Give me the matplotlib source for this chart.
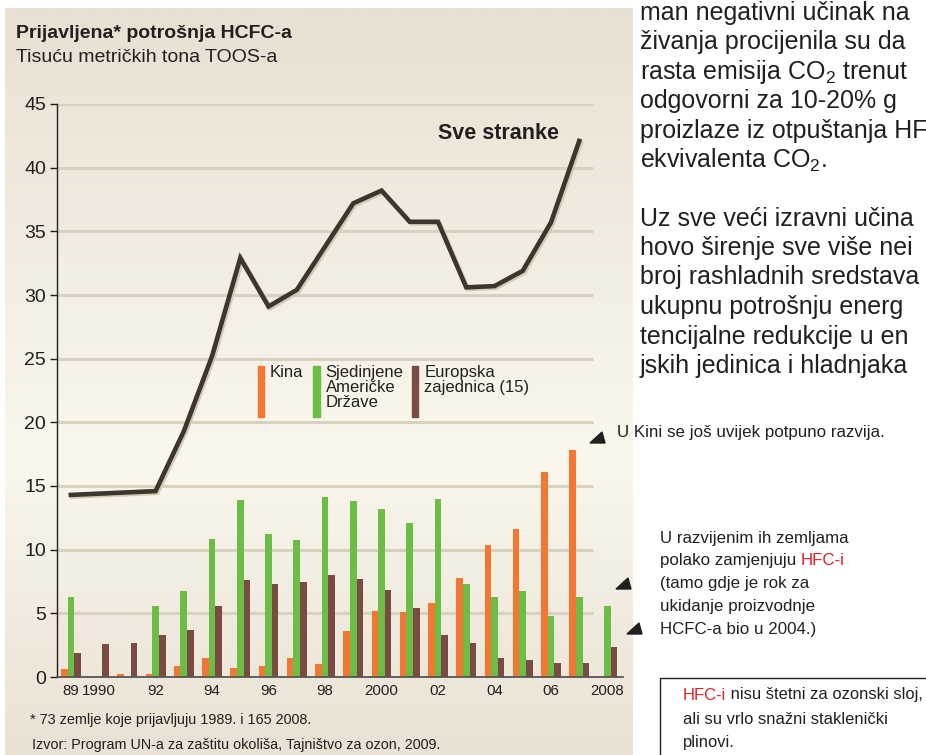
import numpy as np
import matplotlib
matplotlib.use('Agg')
import matplotlib.pyplot as plt
import matplotlib.patheffects as pe
from matplotlib.patches import Rectangle, Polygon

plt.rcParams['font.family'] = ['Liberation Sans', 'DejaVu Sans']
plt.rcParams['mathtext.fontset'] = 'custom'
plt.rcParams['mathtext.rm'] = 'Liberation Sans'
plt.rcParams['mathtext.it'] = 'Liberation Sans'

# podaci (tisuću metričkih tona TOOS-a)
years = list(range(1989, 2009))
sve_stranke = [14.3, 14.4, 14.5, 14.6, 19.3, 25.2, 32.9, 29.1, 30.4, 33.8,
               37.2, 38.2, 35.75, 35.75, 30.6, 30.7, 31.9, 35.7, 42.1]
kina = [0.6, 0.0, 0.2, 0.2, 0.85, 1.47, 0.7, 0.85, 1.47, 1.0,
        3.6, 5.15, 5.1, 5.8, 7.75, 10.35, 11.6, 16.1, 17.85, 0.0]
sad = [6.3, 0.0, 0.0, 5.55, 6.75, 10.8, 13.9, 11.2, 10.75, 14.1,
       13.8, 13.2, 12.1, 14.0, 7.3, 6.3, 6.75, 4.77, 6.3, 5.6]
eu = [1.85, 2.6, 2.65, 3.3, 3.67, 5.55, 7.6, 7.3, 7.5, 8.0,
      7.7, 6.8, 5.4, 3.3, 2.7, 1.47, 1.3, 1.07, 1.07, 2.33]
tick_years = [1989, 1990, 1992, 1994, 1996, 1998, 2000, 2002, 2004, 2006, 2008]
tick_labels = ['89', '1990', '92', '94', '96', '98', '2000', '02', '04', '06', '2008']

c_kina = '#f37632'
c_sad = '#6cbd45'
c_eu = '#7a4b42'
c_line = '#3e352c'
c_grid = '#d9d1bf'
c_text = '#231f20'
c_red = '#e8202a'

W, H = 926, 755
fig = plt.figure(figsize=(W / 100, H / 100), dpi=100)
fig.patch.set_facecolor('white')


def px(x, y):
    # piksel (gore-lijevo) -> koordinate figure
    return x / W, 1 - y / H


# bež pozadina s gradijentom
bg = fig.add_axes([5 / W, 0, (633 - 5) / W, 1 - 8 / H], zorder=0)
t = np.linspace(0, 1, 300)
top = np.array([232, 224, 210]) / 255
mid = np.array([250, 247, 237]) / 255
bot = np.array([233, 225, 211]) / 255
grad = np.where(t[:, None] < 0.6,
                top + (mid - top) * (t[:, None] / 0.6),
                mid + (bot - mid) * ((t[:, None] - 0.6) / 0.4))
bg.imshow(grad[:, None, :], aspect='auto', extent=[0, 1, 0, 1])
bg.axis('off')

# glavni graf
ax = fig.add_axes([57 / W, (H - 677) / H, (623 - 57) / W, (677 - 104) / H], zorder=1)
ax.patch.set_alpha(0)
x = np.array(years, dtype=float)
bw = 0.235
ax.bar(x - bw, kina, width=bw, color=c_kina, zorder=3)
ax.bar(x, sad, width=bw, color=c_sad, zorder=3)
ax.bar(x + bw, eu, width=bw, color=c_eu, zorder=3)

ax.plot(years[:-1], sve_stranke, color=c_line, lw=3.3, zorder=4,
        solid_joinstyle='miter',
        path_effects=[pe.SimpleLineShadow(offset=(1.2, -1.2), shadow_color='#d3cab6', alpha=1),
                      pe.Normal()])
ax.text(2006.3, 42.7, 'Sve stranke', fontsize=15.5, fontweight='bold',
        color=c_text, ha='right', va='center')

ax.set_xlim(1988.51, 2008.55)
ax.set_ylim(0, 45)
ax.hlines(range(5, 50, 5), 1988.51, 2007.5, color=c_grid, lw=2.2, zorder=1)

for s in ['top', 'right']:
    ax.spines[s].set_visible(False)
ax.spines['left'].set_color(c_text)
ax.spines['left'].set_linewidth(1.0)
ax.spines['bottom'].set_color('#555')
ax.spines['bottom'].set_linewidth(1.3)
ax.spines['bottom'].set_zorder(5)

ax.set_yticks(range(0, 50, 5))
ax.tick_params(axis='y', length=5, width=1, color=c_text, labelsize=14,
               labelcolor=c_text, pad=3)
ax.set_xticks(tick_years)
ax.set_xticklabels(tick_labels)
ax.tick_params(axis='x', length=0, labelsize=10.8, labelcolor=c_text, pad=5)

# legenda
for (x0, x1, col, lbl) in [(257.5, 264, c_kina, 'Kina'),
                           (313.3, 319.7, c_sad, 'Sjedinjene\nAmeričke\nDržave'),
                           (411.7, 418.3, c_eu, 'Europska\nzajednica (15)')]:
    fig.patches.append(Rectangle(px(x0, 417), (x1 - x0) / W, 51 / H, color=col,
                                 transform=fig.transFigure, zorder=5))
    fig.text(*px(x1 + 6, 365), lbl, fontsize=12, color=c_text, va='top',
             linespacing=1.0, zorder=5)

# naslovi
fig.text(*px(16, 33), 'Prijavljena* potrošnja HCFC-a', fontsize=14,
         fontweight='bold', color=c_text, va='center')
fig.text(*px(16, 57), 'Tisuću metričkih tona TOOS-a', fontsize=14,
         color=c_text, va='center')
fig.text(*px(30, 720), '* 73 zemlje koje prijavljuju 1989. i 165 2008.',
         fontsize=10.4, color=c_text, va='center')
fig.text(*px(32, 745), 'Izvor: Program UN-a za zaštitu okoliša, Tajništvo za ozon, 2009.',
         fontsize=10.4, color=c_text, va='center')

# desni tekst
para = [(13, 'man negativni učinak na'),
        (42, 'živanja procijenila su da'),
        (72, 'rasta emisija CO$_2$ trenut'),
        (101, 'odgovorni za 10-20% g'),
        (131, 'proizlaze iz otpuštanja HF'),
        (160, 'ekvivalenta CO$_2$.'),
        (219, 'Uz sve veći izravni učina'),
        (248, 'hovo širenje sve više nei'),
        (277, 'broj rashladnih sredstava'),
        (307, 'ukupnu potrošnju energ'),
        (337, 'tencijalne redukcije u en'),
        (366, 'jskih jedinica i hladnjaka')]
for yy, s in para:
    fig.text(*px(640, yy), s, fontsize=18, color=c_text, va='center')

fig.text(*px(617, 432), 'U Kini se još uvijek potpuno razvija.', fontsize=12.2,
         color=c_text, va='center')

lines = ['U razvijenim ih zemljama', 'polako zamjenjuju ', '(tamo gdje je rok za',
         'ukidanje proizvodnje', 'HCFC-a bio u 2004.)']
for i, s in enumerate(lines):
    tt = fig.text(*px(660, 538 + i * 22.8), s, fontsize=12.2, color=c_text, va='center')
    if i == 1:
        ax.annotate('HFC-i', xy=(1, 0.5), xycoords=tt, va='center', ha='left',
                    fontsize=12.2, color=c_red, annotation_clip=False)

# okvir
fig.patches.append(Rectangle(px(660, 770), 300 / W, (770 - 678) / H, fill=False,
                             ec=c_text, lw=1, transform=fig.transFigure, zorder=5))
t1 = fig.text(*px(683, 695), 'HFC-i', fontsize=11.9, color=c_red, va='center')
ax.annotate(' nisu štetni za ozonski sloj,', xy=(1, 0.5), xycoords=t1, va='center',
            ha='left', fontsize=11.9, color=c_text, annotation_clip=False)
fig.text(*px(683, 719), 'ali su vrlo snažni staklenički', fontsize=11.9, color=c_text, va='center')
fig.text(*px(683, 743), 'plinovi.', fontsize=11.9, color=c_text, va='center')

# strelice
for (x0, y0) in [(590, 432), (616, 578), (627, 623)]:
    pts = [px(x0, y0 + 11), px(x0 + 15, y0 + 11), px(x0 + 12, y0)]
    fig.patches.append(Polygon(pts, closed=True, color=c_text,
                               transform=fig.transFigure, zorder=6))

fig.savefig('out.png', dpi=100)
